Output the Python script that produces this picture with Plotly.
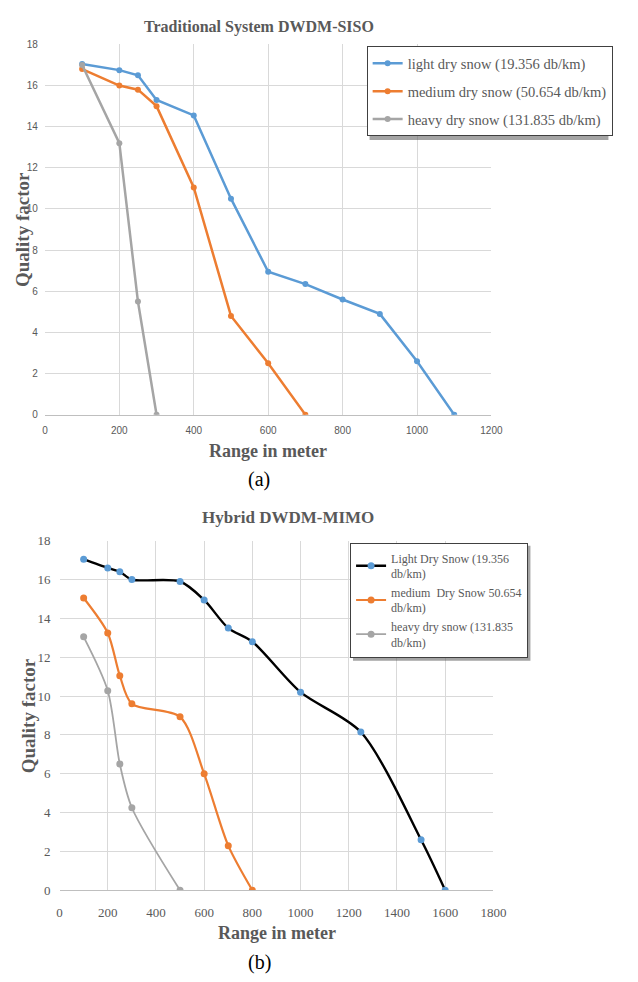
import plotly.graph_objects as go

# ---------------- data ----------------
# (a) Traditional System DWDM-SISO
a_light_x = [100, 200, 250, 300, 400, 500, 600, 700, 800, 900, 1000, 1100]
a_light_y = [17.05, 16.75, 16.5, 15.3, 14.55, 10.5, 6.95, 6.35, 5.6, 4.9, 2.6, 0.0]
a_medium_x = [100, 200, 250, 300, 400, 500, 600, 700]
a_medium_y = [16.8, 16.0, 15.8, 15.0, 11.05, 4.8, 2.5, 0.0]
a_heavy_x = [100, 200, 250, 300]
a_heavy_y = [17.0, 13.2, 5.5, 0.0]

# (b) Hybrid DWDM-MIMO
b_light_x = [100, 200, 250, 300, 500, 600, 700, 800, 1000, 1250, 1500, 1600]
b_light_y = [17.05, 16.6, 16.4, 16.0, 15.9, 14.95, 13.5, 12.8, 10.2, 8.15, 2.6, 0.0]
b_medium_x = [100, 200, 250, 300, 500, 600, 700, 800]
b_medium_y = [15.05, 13.25, 11.05, 9.6, 8.93, 6.0, 2.3, 0.0]
b_heavy_x = [100, 200, 250, 300, 500]
b_heavy_y = [13.05, 10.28, 6.5, 4.25, 0.0]

a_names = ["light dry snow (19.356 db/km)",
           "medium dry snow (50.654 db/km)",
           "heavy dry snow (131.835 db/km)"]
b_names = ["Light Dry Snow (19.356<br>db/km)",
           "medium  Dry Snow 50.654<br>db/km)",
           "heavy dry snow (131.835<br>db/km)"]

BLUE, ORANGE, GRAY = "#5B9BD5", "#ED7D31", "#A5A5A5"
W, H = 638, 982
SERIF = "Liberation Serif"
NARROW = "Liberation Sans Narrow, Liberation Sans, sans-serif"
TXT = "#595959"


def px(x):
    return x / W


def py(y):
    return 1 - y / H


fig = go.Figure()

# ----- top chart -----
for xs, ys, nm, col, g in [(a_light_x, a_light_y, a_names[0], BLUE, "a1"),
                           (a_medium_x, a_medium_y, a_names[1], ORANGE, "a2"),
                           (a_heavy_x, a_heavy_y, a_names[2], GRAY, "a3")]:
    fig.add_trace(go.Scatter(x=xs, y=ys, name=nm, mode="lines+markers",
                             line=dict(color=col, width=2.5),
                             marker=dict(color=col, size=6),
                             xaxis="x", yaxis="y", legend="legend",
                             legendgroup=g))

# ----- bottom chart -----
for xs, ys, nm, lc, mc, lw, g in [(b_light_x, b_light_y, b_names[0], "black", BLUE, 2.4, "b1"),
                                  (b_medium_x, b_medium_y, b_names[1], ORANGE, ORANGE, 2.2, "b2"),
                                  (b_heavy_x, b_heavy_y, b_names[2], GRAY, GRAY, 1.8, "b3")]:
    fig.add_trace(go.Scatter(x=xs, y=ys, name=nm, mode="lines+markers",
                             line=dict(color=lc, width=lw, shape="spline", smoothing=0.8),
                             marker=dict(color=mc, size=7),
                             xaxis="x2", yaxis="y2", legend="legend2",
                             legendgroup=g))

grid = "#D9D9D9"
fig.update_layout(
    width=W, height=H,
    margin=dict(l=0, r=0, t=0, b=0),
    font=dict(family=SERIF, color=TXT),
    paper_bgcolor="white", plot_bgcolor="white",
    xaxis=dict(domain=[px(43), px(501)], range=[0, 1200], dtick=200,
               showgrid=True, gridcolor=grid, zeroline=False,
               showline=True, linecolor="#BFBFBF", linewidth=1,
               tickfont=dict(family=NARROW, size=10, color=TXT), anchor="y",
               ticklabelstandoff=6),
    yaxis=dict(domain=[py(414), py(38)], range=[0, 18], dtick=2,
               showgrid=True, gridcolor=grid, zeroline=False,
               tickfont=dict(family=NARROW, size=10, color=TXT), anchor="x",
               ticklabelstandoff=6),
    xaxis2=dict(domain=[px(58), px(503)], range=[0, 1800], dtick=200,
                showgrid=True, gridcolor=grid, zeroline=False,
                showline=True, linecolor="#BFBFBF", linewidth=1,
                tickfont=dict(family=SERIF, size=13, color=TXT), anchor="y2",
                ticklabelstandoff=10),
    yaxis2=dict(domain=[py(897), py(542)], range=[0, 18], dtick=2,
                showgrid=True, gridcolor=grid, zeroline=False,
                tickfont=dict(family=SERIF, size=13, color=TXT), anchor="x2",
                ticklabelstandoff=8),
    legend=dict(x=px(373), y=py(40), xanchor="left", yanchor="top",
                bgcolor="white", bordercolor="#404040", borderwidth=1,
                font=dict(family=SERIF, size=14.5, color=TXT),
                traceorder="grouped", tracegroupgap=6, itemwidth=30),
    legend2=dict(x=px(356), y=py(544), xanchor="left", yanchor="top",
                 bgcolor="white", bordercolor="#404040", borderwidth=1,
                 font=dict(family=SERIF, size=12, color=TXT),
                 traceorder="grouped", tracegroupgap=0, itemwidth=30),
    showlegend=True,
)

# soft drop shadows behind the two legend boxes
shadow = "rgba(90,90,90,0.55)"
fig.update_layout(shapes=[
    dict(type="rect", xref="paper", yref="paper", layer="above",
         x0=px(376), x1=px(621), y0=py(135), y1=py(43),
         fillcolor=shadow, line=dict(width=0)),
    dict(type="rect", xref="paper", yref="paper", layer="above",
         x0=px(359), x1=px(541), y0=py(664), y1=py(547),
         fillcolor=shadow, line=dict(width=0)),
])

ann = [
    dict(text="<b>Traditional System DWDM-SISO</b>", x=px(263), y=py(20),
         font=dict(family=SERIF, size=16, color=TXT)),
    dict(text="<b>Range in meter</b>", x=px(272), y=py(451),
         font=dict(family=SERIF, size=18, color=TXT)),
    dict(text="<b>Quality factor</b>", x=px(20), y=py(226), textangle=-90,
         font=dict(family=SERIF, size=19, color=TXT)),
    dict(text="(a)", x=px(263), y=py(480),
         font=dict(family=SERIF, size=20, color="black")),
    dict(text="<b>Hybrid DWDM-MIMO</b>", x=px(292), y=py(518),
         font=dict(family=SERIF, size=17, color=TXT)),
    dict(text="<b>Range in meter</b>", x=px(281), y=py(940),
         font=dict(family=SERIF, size=18, color=TXT)),
    dict(text="<b>Quality factor</b>", x=px(26), y=py(720), textangle=-90,
         font=dict(family=SERIF, size=19, color=TXT)),
    dict(text="(b)", x=px(263), y=py(970),
         font=dict(family=SERIF, size=20, color="black")),
]
for a in ann:
    a.update(xref="paper", yref="paper", showarrow=False,
             xanchor="center", yanchor="middle")
fig.update_layout(annotations=ann)

fig.write_html("out.html")
